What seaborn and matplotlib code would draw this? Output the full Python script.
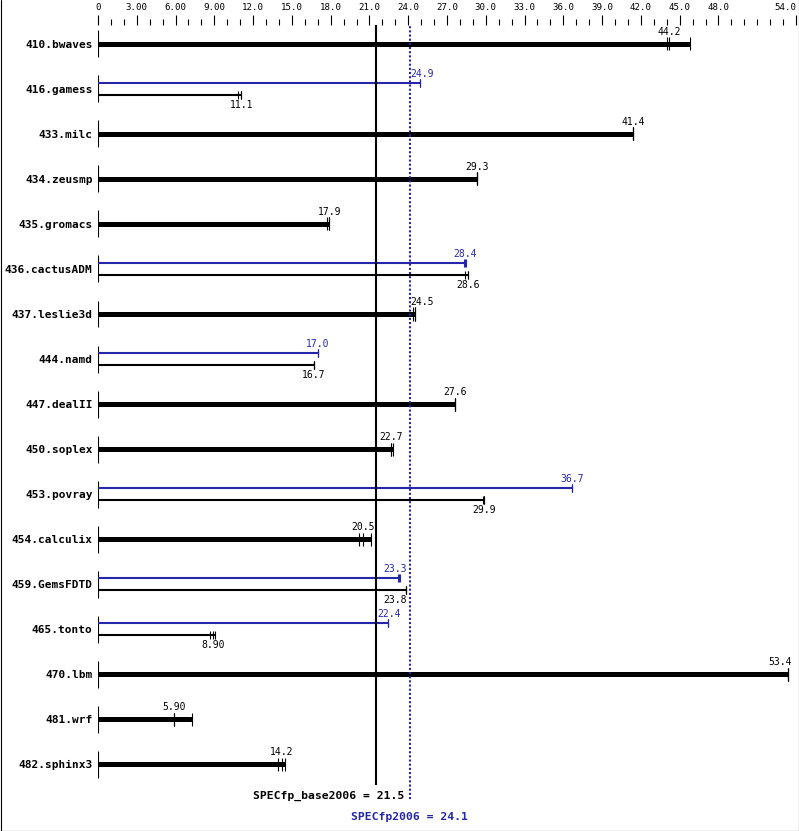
import numpy as np
import matplotlib
matplotlib.use('Agg')
import matplotlib.pyplot as plt
import seaborn as sns

benchmarks = ['410.bwaves', '416.gamess', '433.milc', '434.zeusmp', '435.gromacs',
              '436.cactusADM', '437.leslie3d', '444.namd', '447.dealII', '450.soplex',
              '453.povray', '454.calculix', '459.GemsFDTD', '465.tonto', '470.lbm',
              '481.wrf', '482.sphinx3']
base_runs = [[44.0, 44.2, 45.8], [10.8, 11.1, 11.1], [41.4, 41.4, 41.4], [29.3, 29.3, 29.3],
             [17.75, 17.9, 17.9], [28.4, 28.6, 28.6], [24.4, 24.5, 24.5], [16.7, 16.7, 16.7],
             [27.6, 27.6, 27.6], [22.7, 22.7, 22.8], [29.8, 29.9, 29.9], [20.2, 20.5, 21.1],
             [23.8, 23.8, 23.8], [8.7, 8.9, 9.05], [53.4, 53.4, 53.4], [5.9, 5.9, 7.3],
             [13.9, 14.2, 14.5]]
peak_runs = [None, [24.9, 24.9, 24.9], None, None, None, [28.3, 28.4, 28.5], None,
             [17.0, 17.0, 17.0], None, None, [36.7, 36.7, 36.7], None, [23.2, 23.3, 23.4],
             [22.4, 22.4, 22.4], None, None, None]
base_score = 21.5
peak_score = 24.1
x_major = [0, 3, 6, 9, 12, 15, 18, 21, 24, 27, 30, 33, 36, 39, 42, 45, 48, 54]

BLUE = '#2626aa'
px = 1 / 45.0  # one pixel in row units
XMAX = 54


def fmt(v):
    if v == 0:
        return '0'
    if v < 10:
        return '%.2f' % v
    return '%.1f' % v


def place(m, label):
    # keep value labels clear of the two score lines and the right edge
    half = len(label) * 5.85 / 12.93 / 2
    if m + half > XMAX - 0.2:
        return XMAX - 0.3, 'right'
    for line in (base_score, peak_score):
        if m - half < line < m + half:
            if m < line:
                return line - 0.2, 'right'
            return line + 0.1, 'left'
    return m, 'center'


def value_label(ax, m, y, va, color):
    s = fmt(m)
    x, ha = place(m, s)
    ax.text(x, y, s, ha=ha, va=va, fontsize=7, color=color)


sns.set_theme(style='white')
plt.rcParams['font.family'] = ['DejaVu Sans Mono']

fig = plt.figure(figsize=(7.99, 8.31), dpi=100)
ax = fig.add_axes([98 / 799, 0, (796 - 98) / 799, (831 - 25) / 831])
ax.set_xlim(0, XMAX)
ax.set_ylim((831 - 44) / 45, (25 - 44) / 45)
sns.despine(ax=ax, left=True, right=True, top=True, bottom=True)

n = len(benchmarks)
rows = np.arange(n)

# little axis stubs at zero for each row
ax.vlines(np.zeros(n), rows - 13.5 * px, rows + 13.5 * px, color='black', lw=0.8)

for i in range(n):
    b = base_runs[i]
    p = peak_runs[i]
    if p is None:
        ax.hlines(i, 0, max(b), color='black', lw=3.6, capstyle='butt')
        ax.vlines(b, i - 6.5 * px, i + 6.5 * px, color='black', lw=0.8)
        value_label(ax, np.median(b), i - 7 * px, 'bottom', 'black')
    else:
        yb = i - 6 * px
        yk = i + 6 * px
        ax.hlines(yb, 0, max(p), color=BLUE, lw=1.5, capstyle='butt')
        ax.vlines(p, yb - 4 * px, yb + 4 * px, color=BLUE, lw=0.8)
        value_label(ax, np.median(p), yb - 4 * px, 'bottom', BLUE)
        ax.hlines(yk, 0, max(b), color='black', lw=1.5, capstyle='butt')
        ax.vlines(b, yk - 4 * px, yk + 4 * px, color='black', lw=0.8)
        value_label(ax, np.median(b), yk + 5 * px, 'top', 'black')

# overall score lines
ax.vlines(base_score, (22 - 44) / 45, (785 - 44) / 45, color='black', lw=1.5)
ax.vlines(peak_score, (22 - 44) / 45, (800 - 44) / 45, color=BLUE, lw=1.5,
          linestyles=[(0, (1, 1))])
ax.text(base_score + 2.2, (796 - 44) / 45, 'SPECfp_base2006 = %.1f' % base_score,
        ha='right', va='center', fontsize=8.2, fontweight='bold', color='black')
ax.text(peak_score, (817 - 44) / 45, 'SPECfp2006 = %.1f' % peak_score,
        ha='center', va='center', fontsize=8.2, fontweight='bold', color=BLUE)

# axis on top
ax.xaxis.tick_top()
ax.set_xticks(x_major)
ax.set_xticklabels([fmt(v) for v in x_major])
ax.set_xticks([v for v in range(0, XMAX) if v % 3 != 0 or v == 51], minor=True)
ax.tick_params(axis='x', which='major', top=True, bottom=False, length=7.2, width=0.8,
               pad=2, labelsize=6.6, colors='black', direction='out')
ax.tick_params(axis='x', which='minor', top=True, bottom=False, length=4.0, width=0.8,
               direction='out', colors='black')
ax.get_xticklabels()[-1].set_ha('right')

ax.set_yticks(rows)
ax.set_yticklabels(benchmarks, fontweight='bold', fontsize=8)
ax.tick_params(axis='y', length=0, pad=4, colors='black')

# border around the picture
for xs, ys in [([0.5 / 799, 0.5 / 799], [0, 1]), ([798.5 / 799, 798.5 / 799], [0, 1]),
               ([0, 1], [0.5 / 831, 0.5 / 831])]:
    fig.add_artist(plt.Line2D(xs, ys, transform=fig.transFigure, color='black', lw=0.8))

fig.savefig('out.png', dpi=100, facecolor='white')
